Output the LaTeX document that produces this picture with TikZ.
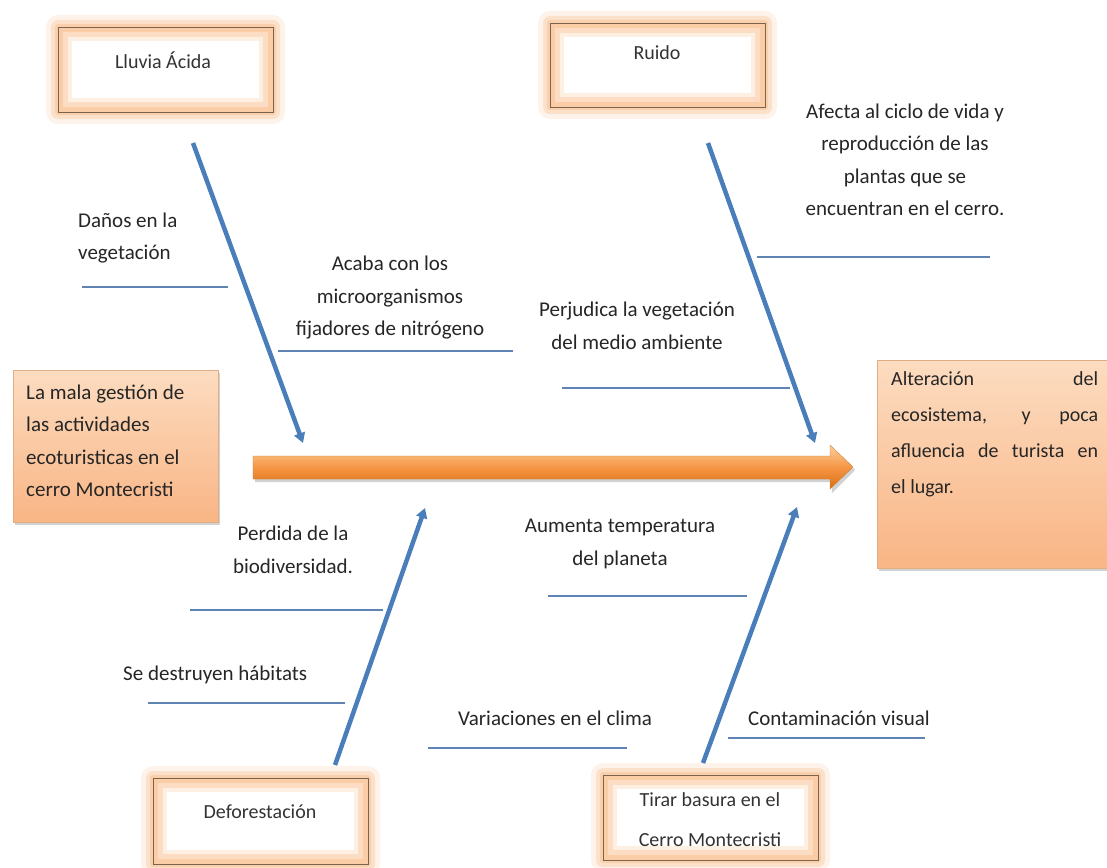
\documentclass[tikz,border=0pt]{standalone}
\usepackage{fontspec}
\setmainfont{Carlito}
\usetikzlibrary{arrows.meta,shadows,calc}
\definecolor{bl}{HTML}{4A7EBB}
\definecolor{thinbl}{HTML}{5F84B4}
\definecolor{glow}{HTML}{FAC090}
\definecolor{boxedge}{HTML}{7A6450}
\definecolor{peachtop}{HTML}{FCDCC0}
\definecolor{peachbot}{HTML}{F9B585}
\definecolor{ortop}{HTML}{FBD09C}
\definecolor{ormid}{HTML}{F79646}
\definecolor{orbot}{HTML}{D9700F}
\newcommand\causebox[5]{%
  \fill[glow,opacity=0.18,rounded corners=12] ({#2-12},{#3-12}) rectangle ({#4+12},{#5+12});
  \fill[glow,opacity=0.35,rounded corners=7] ({#2-7},{#3-7}) rectangle ({#4+7},{#5+7});
  \fill[glow,opacity=0.5,rounded corners=3] ({#2-3},{#3-3}) rectangle ({#4+3},{#5+3});
  \node[cbox,minimum width={#4-#2},minimum height={#5-#3}] (#1) at ({(#2+#4)/2},{(#3+#5)/2}) {};
  \fill[glow!55] ({#2+5},{#3+5}) rectangle ({#4-5},{#5-5});
  \fill[glow!25] ({#2+10},{#3+10}) rectangle ({#4-10},{#5-10});
  \fill[white] ({#2+14},{#3+14}) rectangle ({#4-14},{#5-14});
}
\begin{document}
\begin{tikzpicture}[x=1pt,y=-1pt,
  lbl/.style={font=\fontsize{21}{32.5}\selectfont, inner sep=0, align=center, text=black!85},
  boxlbl/.style={font=\fontsize{20}{40}\selectfont, inner sep=0, align=center, text=black!80},
  cbox/.style={draw=boxedge, line width=0.9pt, fill=glow!80, inner sep=0},
  ebox/.style={draw=glow!90!black, line width=0.6pt, top color=peachtop, bottom color=peachbot, inner sep=0,
    drop shadow={shadow xshift=2pt, shadow yshift=-3pt, opacity=0.35}},
  bluearr/.style={draw=bl, line width=4.5pt, -{Triangle[length=10pt,width=11pt]}},
  thin/.style={draw=thinbl, line width=1.4pt}]
\useasboundingbox (0,0) rectangle (1107,867);
\fill[white] (0,0) rectangle (1107,867);

% cause boxes
\causebox{lluvia}{58}{27}{273}{112}
\node[boxlbl] (lluviat) at (163,60) {Lluvia Ácida};
\causebox{ruido}{550}{23}{765}{107}
\node[boxlbl] (ruidot) at (657,53) {Ruido};
\causebox{defor}{153}{778}{368}{864}
\node[boxlbl] (defort) at (260,812) {Deforestación};
\causebox{tirar}{603}{775}{818}{860}
\node[boxlbl] (tirart) at (710,820) {Tirar basura en el\\Cerro Montecristi};

% problem and effect boxes
\node[ebox, minimum width=205, minimum height=152] (problema) at (115.5,446) {};
\node[lbl, anchor=west, align=left] (problemat) at (26,441) {La mala gestión de\\las actividades\\ecoturisticas en el\\cerro Montecristi};
\node[ebox, minimum width=232, minimum height=208] (efecto) at (993,464) {};
\node[anchor=north west, inner sep=0, text=black!85, font=\fontsize{20}{36}\selectfont, align=left] (efectot) at (891,371)
  {\makebox[207pt][s]{Alteración del}\\\makebox[207pt][s]{ecosistema, y poca}\\\makebox[207pt][s]{afluencia de turista en}\\el lugar.};

% main spine arrow
\coordinate (ms) at (253,467);
\coordinate (mh) at (830,467);
\coordinate (me) at (853,467);
\fill[black,opacity=0.18] ($(ms)+(2,-9)$) -- ($(mh)+(2,-9)$) -- ($(mh)+(2,-20)$) -- ($(me)+(2,3)$) -- ($(mh)+(2,26)$) -- ($(mh)+(2,15)$) -- ($(ms)+(2,15)$) -- cycle;
\shade[top color=ortop, bottom color=orbot, middle color=ormid, draw=ormid!80!black, line width=0.3pt]
  ($(ms)+(0,-11)$) -- ($(mh)+(0,-11)$) -- ($(mh)+(0,-22)$) -- (me) -- ($(mh)+(0,22)$) -- ($(mh)+(0,12)$) -- ($(ms)+(0,12)$) -- cycle;

% blue branch arrows
\coordinate (a1s) at (193,143); \coordinate (a1e) at (303,443);
\coordinate (a2s) at (708,143); \coordinate (a2e) at (815,443);
\coordinate (a3s) at (335,765); \coordinate (a3e) at (425,508);
\coordinate (a4s) at (703,763); \coordinate (a4e) at (797,507);
\draw[bluearr] (a1s) -- (a1e);
\draw[bluearr] (a2s) -- (a2e);
\draw[bluearr] (a3s) -- (a3e);
\draw[bluearr] (a4s) -- (a4e);

% thin sub-branches
\coordinate (l1a) at (82,287);  \coordinate (l1b) at (228,287);
\coordinate (l2a) at (278,351); \coordinate (l2b) at (513,351);
\coordinate (l3a) at (757,257); \coordinate (l3b) at (990,257);
\coordinate (l4a) at (562,388); \coordinate (l4b) at (790,388);
\coordinate (l5a) at (190,610); \coordinate (l5b) at (383,610);
\coordinate (l6a) at (548,596); \coordinate (l6b) at (747,596);
\coordinate (l7a) at (148,703); \coordinate (l7b) at (345,703);
\coordinate (l8a) at (428,748); \coordinate (l8b) at (627,748);
\coordinate (l9a) at (728,738); \coordinate (l9b) at (925,738);
\foreach \i in {1,...,9} {\draw[thin] (l\i a) -- (l\i b);}

% labels
\node[lbl, anchor=west, align=left] (t1) at (78,238) {Daños en la\\vegetación};
\node[lbl] (t2) at (390,298) {Acaba con los\\microorganismos\\fijadores de nitrógeno};
\node[lbl] (t3) at (905,160) {Afecta al ciclo de vida y\\reproducción de las\\plantas que se\\encuentran en el cerro.};
\node[lbl] (t4) at (637,326) {Perjudica la vegetación\\del medio ambiente};
\node[lbl] (t5) at (293,550) {Perdida de la\\biodiversidad.};
\node[lbl] (t6) at (620,544) {Aumenta temperatura\\del planeta};
\node[lbl, anchor=west] (t7) at (123,675) {Se destruyen hábitats};
\node[lbl] (t8) at (555,718) {Variaciones en el clima};
\node[lbl] (t9) at (839,718) {Contaminación visual};
\end{tikzpicture}
\end{document}
